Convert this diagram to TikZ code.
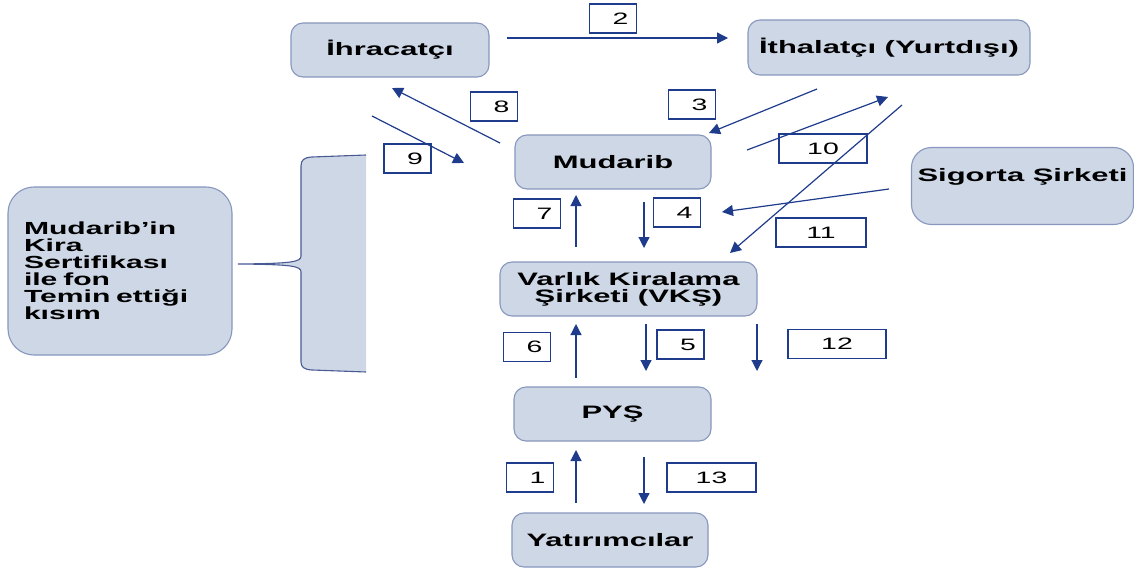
\documentclass[tikz,border=0pt]{standalone}
\usepackage{fontspec}
\setmainfont{Liberation Sans}
\newfontfamily\wide[FakeStretch=1.72]{Liberation Sans}
\usetikzlibrary{arrows.meta}
\definecolor{navy}{HTML}{1F3C8C}
\definecolor{boxfill}{HTML}{CED7E6}
\definecolor{boxline}{HTML}{8797BD}
\definecolor{brline}{HTML}{4A5A95}
\begin{document}
\begin{tikzpicture}[x=1pt,y=-1pt,
  box/.style={draw=boxline,fill=boxfill,rounded corners=12pt,line width=1.1pt,inner sep=0pt,
    font=\wide\bfseries\fontsize{18}{17}\selectfont,align=center,minimum height=54pt},
  txt/.style={inner sep=0pt,font=\wide\bfseries\fontsize{18}{17}\selectfont},
  lbl/.style={draw=navy,fill=white,line width=1.6pt,inner sep=0pt,minimum height=29pt,
    font=\wide\fontsize{16.5}{16}\selectfont},
  lblone/.style={lbl,minimum width=47pt,text width=31pt,align=right},
  arr/.style={draw=navy,line width=1.2pt,-{Triangle[length=11pt,width=11pt]}}]
\useasboundingbox (0,0) rectangle (1134,572);

% bracket callout
\path[fill=boxfill] (366,155) -- (312,157) .. controls (304,157.5) and (301,160) .. (301,166) -- (301,256)
  .. controls (301,262) and (292,263.5) .. (238,264)
  .. controls (292,264.5) and (301,266) .. (301,272)
  -- (301,362) .. controls (301,367) and (304,369.5) .. (312,370) -- (366,372) -- cycle;
\draw[brline,line width=1.1pt] (366,155) -- (312,157) .. controls (304,157.5) and (301,160) .. (301,166) -- (301,256)
  .. controls (301,262) and (292,263.5) .. (238,264)
  .. controls (292,264.5) and (301,266) .. (301,272)
  -- (301,362) .. controls (301,367) and (304,369.5) .. (312,370) -- (366,372);

% main boxes
\node[box,minimum width=198pt] (ihr) at (390,50) {İhracatçı};
\node[box,minimum width=282pt,minimum height=55pt] (ith) at (889,47.5) {İthalatçı (Yurtdışı)};
\node[box,minimum width=196pt] (mud) at (613,162) {Mudarib};
\node[box,minimum width=222pt,minimum height=77pt,rounded corners=20pt] (sig) at (1022.5,186) {};
\node[txt] (sigt) at (1022.5,177) {Sigorta Şirketi};
\node[box,minimum width=257pt] (vks) at (628.5,289) {Varlık Kiralama\\Şirketi (VKŞ)};
\node[box,minimum width=197pt] (pys) at (612.5,414) {PYŞ};
\node[box,minimum width=196pt] (yat) at (610,540) {Yatırımcılar};
\node[box,minimum width=224pt,minimum height=168pt,text width=192pt,align=left,rounded corners=26pt,
  font=\wide\bfseries\fontsize{17.5}{17}\selectfont] (mk) at (120,271)
  {Mudarib’in\\Kira\\Sertifikası\\ile fon\\Temin ettiği\\kısım};

% number labels
\node[lblone] (n2) at (613,18.5) {2};
\node[lblone] (n8) at (494,106.5) {8};
\node[lblone] (n3) at (692,104.5) {3};
\node[lblone] (n9) at (407.5,158.5) {9};
\node[lbl,minimum width=88pt] (n10) at (823,148.5) {10};
\node[lbl,minimum width=90pt] (n11) at (821,232.5) {11};
\node[lblone] (n4) at (677,212.5) {4};
\node[lblone] (n7) at (537,213.5) {7};
\node[lblone] (n6) at (527,347) {6};
\node[lblone] (n5) at (680.5,344.5) {5};
\node[lbl,minimum width=98pt] (n12) at (837,344) {12};
\node[lblone] (n1) at (530,477.5) {1};
\node[lbl,minimum width=89pt] (n13) at (711.5,477.5) {13};

% arrow end points
\coordinate (a2s) at (507,38);   \coordinate (a2e) at (728,38);
\coordinate (a8s) at (500,143);  \coordinate (a8e) at (392,88);
\coordinate (a9s) at (372,116);  \coordinate (a9e) at (464,163);
\coordinate (a3s) at (817,89);   \coordinate (a3e) at (709,133);
\coordinate (a10s) at (747,150); \coordinate (a10e) at (888,97);
\coordinate (a11s) at (902,105); \coordinate (a11e) at (730,253);
\coordinate (a4hs) at (889,189); \coordinate (a4he) at (722,212);
\coordinate (a7s) at (576,247);  \coordinate (a7e) at (576,195);
\coordinate (a4s) at (644,202);  \coordinate (a4e) at (644,248);
\coordinate (a6s) at (576,378);  \coordinate (a6e) at (576,324);
\coordinate (a5s) at (646,324);  \coordinate (a5e) at (646,371);
\coordinate (a12s) at (757,324); \coordinate (a12e) at (757,371);
\coordinate (a1s) at (576,503);  \coordinate (a1e) at (576,450);
\coordinate (a13s) at (644,457); \coordinate (a13e) at (644,504);

\foreach \a in {2,8,9,3,10,11,4h,7,4,6,5,12,1,13}
  \draw[arr] (a\a s) -- (a\a e);
\end{tikzpicture}
\end{document}
